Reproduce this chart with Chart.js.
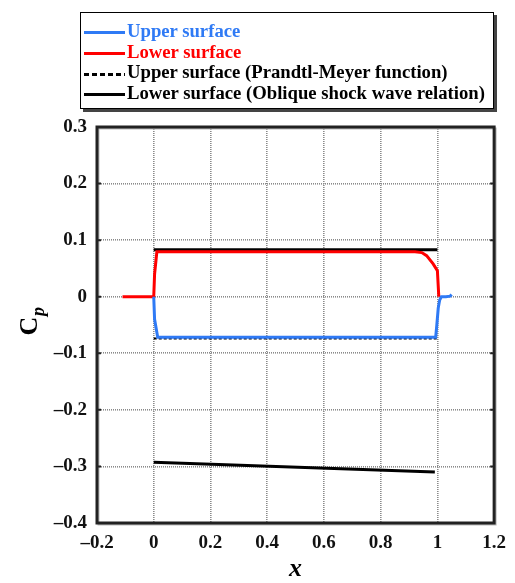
<!DOCTYPE html>
<html lang="en">
<head>
    <meta charset="UTF-8">
    <title>Cp distribution</title>
    <style>
        body {
            margin: 0;
            background-color: #fff;
        }
        .wrap {
            position: relative;
            width: 515px;
            height: 583px;
        }
        canvas {
            position: absolute;
            left: 0;
            top: 0;
        }
        .legend {
            position: absolute;
            left: 80px;
            top: 12px;
            width: 414px;
            height: 97px;
            border: 1.5px solid #000;
            box-shadow: 3px 3px 0 #444;
            background: #fff;
            font-family: "Liberation Serif", "DejaVu Serif", serif;
            font-weight: bold;
            font-size: 18.7px;
            box-sizing: border-box;
            padding-top: 8px;
        }
        .legend div {
            height: 20.7px;
            line-height: 20px;
            white-space: nowrap;
        }
        .legend .sample {
            display: inline-block;
            width: 41px;
            height: 3px;
            margin-left: 3px;
            margin-right: 2px;
            vertical-align: middle;
        }
    </style>
</head>
<body>
    <div class="wrap">
        <canvas id="cpChart" width="515" height="583"></canvas>
        <div class="legend" id="legend"></div>
    </div>

    <script src="https://cdn.jsdelivr.net/npm/chart.js"></script>
    <script>
        // Datos
        const upperX = [0, 0.003, 0.014, 0.5, 0.994, 0.998, 1.003, 1.008, 1.014, 1.03, 1.045, 1.05];
        const upperY = [0, -0.04, -0.0716, -0.0716, -0.0716, -0.05, -0.02, -0.006, 0, 0, 0.001, 0.004];

        const lowerX = [-0.11, 0, 0.003, 0.011, 0.5, 0.921, 0.945, 0.962, 0.985, 1.0, 1.005];
        const lowerY = [0, 0, 0.04, 0.0795, 0.0795, 0.0795, 0.078, 0.0726, 0.058, 0.046, 0];

        const pmX = [0, 1];
        const pmY = [-0.074, -0.074];

        // dos tramos: null separa la línea de arriba de la de abajo
        const obliqueX = [0, 1, null, 0, 0.991];
        const obliqueY = [0.083, 0.083, null, -0.2927, -0.31];

        const xTicks = [-0.2, 0, 0.2, 0.4, 0.6, 0.8, 1, 1.2];
        const xTickLabels = ["\u20130.2", "0", "0.2", "0.4", "0.6", "0.8", "1", "1.2"];
        const yTicks = [0.3, 0.2, 0.1, 0, -0.1, -0.2, -0.3, -0.4];
        const yTickLabels = ["0.3", "0.2", "0.1", "0", "\u20130.1", "\u20130.2", "\u20130.3", "\u20130.4"];

        const seriesNames = [
            "Upper surface",
            "Lower surface",
            "Upper surface (Prandtl-Meyer function)",
            "Lower surface (Oblique shock wave relation)"
        ];

        const blue = "#2f7af5";
        const red = "#ff0000";
        const serif = "'Liberation Serif', 'DejaVu Serif', serif";

        function toPoints(xs, ys) {
            return xs.map((x, i) => x === null ? { x: NaN, y: null } : { x: x, y: ys[i] });
        }

        function tickLabel(values, labels, v) {
            const i = values.findIndex(t => Math.abs(t - v) < 1e-6);
            return i >= 0 ? labels[i] : "";
        }

        // Marco negro y títulos de ejes
        const framePlugin = {
            id: "frame",
            afterDraw(chart) {
                const { ctx, chartArea: a } = chart;
                ctx.save();
                ctx.strokeStyle = "#bbb";
                ctx.lineWidth = 2;
                ctx.strokeRect(a.left + 1.5, a.top + 1.5, a.right - a.left, a.bottom - a.top);
                ctx.strokeStyle = "#222";
                ctx.lineWidth = 3;
                ctx.strokeRect(a.left, a.top, a.right - a.left, a.bottom - a.top);

                // marcas interiores
                const ys = chart.scales.y;
                ctx.lineWidth = 2;
                yTicks.forEach(v => {
                    const py = ys.getPixelForValue(v);
                    ctx.beginPath();
                    ctx.moveTo(a.left, py);
                    ctx.lineTo(a.left + 4, py);
                    ctx.moveTo(a.right, py);
                    ctx.lineTo(a.right - 4, py);
                    ctx.stroke();
                });

                // título eje x
                ctx.fillStyle = "#000";
                ctx.font = "italic bold 26px " + serif;
                ctx.textAlign = "center";
                ctx.textBaseline = "middle";
                ctx.fillText("x", (a.left + a.right) / 2, 569);

                // título eje y: C con subíndice p
                ctx.translate(37, 326);
                ctx.rotate(-Math.PI / 2);
                ctx.textAlign = "center";
                ctx.textBaseline = "alphabetic";
                ctx.font = "bold 26px " + serif;
                ctx.fillText("C", 0, 0);
                ctx.font = "italic bold 18px " + serif;
                ctx.textAlign = "left";
                ctx.fillText("p", 10, 7);
                ctx.restore();
            }
        };

        const ctx = document.getElementById("cpChart").getContext("2d");
        const chart = new Chart(ctx, {
            type: "line",
            data: {
                datasets: [
                    {
                        label: seriesNames[0],
                        data: toPoints(upperX, upperY),
                        borderColor: blue,
                        borderWidth: 3
                    },
                    {
                        label: seriesNames[1],
                        data: toPoints(lowerX, lowerY),
                        borderColor: red,
                        borderWidth: 3
                    },
                    {
                        label: seriesNames[2],
                        data: toPoints(pmX, pmY),
                        borderColor: "#000",
                        borderWidth: 2,
                        borderDash: [3, 2]
                    },
                    {
                        label: seriesNames[3],
                        data: toPoints(obliqueX, obliqueY),
                        borderColor: "#000",
                        borderWidth: 3,
                        spanGaps: false
                    }
                ]
            },
            options: {
                responsive: false,
                animation: false,
                events: [],
                elements: {
                    point: { radius: 0 },
                    line: { tension: 0, fill: false }
                },
                layout: {
                    padding: { top: 127, right: 18, left: 0, bottom: 0 }
                },
                plugins: {
                    legend: { display: false },
                    tooltip: { enabled: false }
                },
                scales: {
                    x: {
                        type: "linear",
                        min: -0.2,
                        max: 1.2,
                        afterFit: s => { s.height = 60; },
                        afterBuildTicks: s => { s.ticks = xTicks.map(v => ({ value: v })); },
                        ticks: {
                            padding: 9,
                            maxRotation: 0,
                            color: "#111",
                            font: { family: serif, size: 19, weight: "bold" },
                            callback: v => tickLabel(xTicks, xTickLabels, v)
                        },
                        grid: {
                            color: "#8a8a8a",
                            lineWidth: 1.6,
                            drawTicks: false
                        },
                        border: { display: false, dash: [1, 1] }
                    },
                    y: {
                        type: "linear",
                        min: -0.4,
                        max: 0.3,
                        afterFit: s => { s.width = 97; },
                        afterBuildTicks: s => { s.ticks = yTicks.map(v => ({ value: v })); },
                        ticks: {
                            padding: 10,
                            color: "#111",
                            font: { family: serif, size: 19, weight: "bold" },
                            callback: v => tickLabel(yTicks, yTickLabels, v)
                        },
                        grid: {
                            color: "#8a8a8a",
                            lineWidth: 1.6,
                            drawTicks: false
                        },
                        border: { display: false, dash: [1, 1] }
                    }
                }
            },
            plugins: [framePlugin]
        });

        // Leyenda en HTML (texto del mismo color que la línea)
        const legendStyles = [
            { color: blue, dotted: false },
            { color: red, dotted: false },
            { color: "#000", dotted: true },
            { color: "#000", dotted: false }
        ];
        const legend = document.getElementById("legend");
        seriesNames.forEach((name, i) => {
            const row = document.createElement("div");
            const s = document.createElement("span");
            s.className = "sample";
            const c = legendStyles[i].color;
            s.style.background = legendStyles[i].dotted
                ? "repeating-linear-gradient(90deg, " + c + " 0 5px, transparent 5px 8px)"
                : c;
            row.appendChild(s);
            const t = document.createElement("span");
            t.textContent = name;
            t.style.color = c;
            row.appendChild(t);
            legend.appendChild(row);
        });
    </script>
</body>
</html>
